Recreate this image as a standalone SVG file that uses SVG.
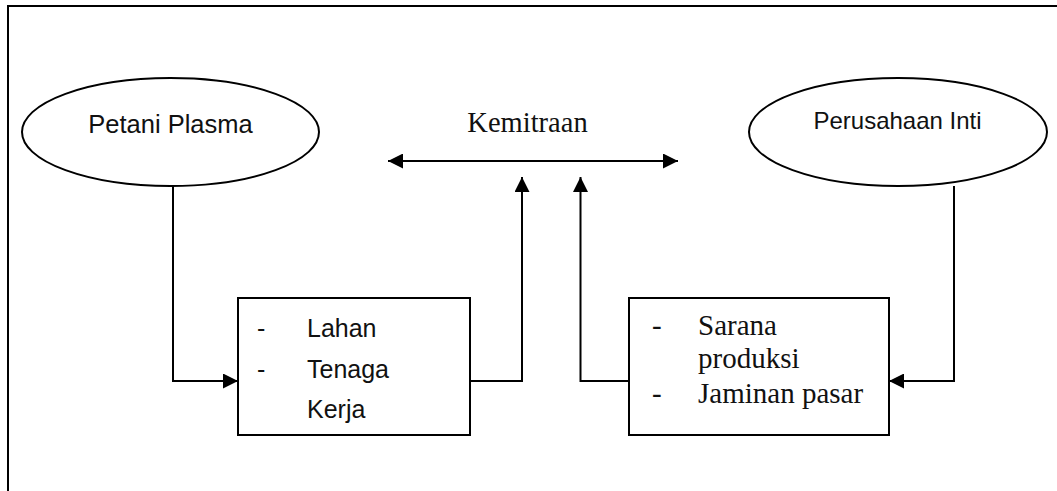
<svg xmlns="http://www.w3.org/2000/svg" width="1057" height="491" viewBox="0 0 1057 491">
<style>
.ln{fill:none;stroke:#000;stroke-width:2}
.shape{fill:#fff;stroke:#000;stroke-width:2}
.sans{font-family:"Liberation Sans",Arial,sans-serif;fill:#111}
.serif{font-family:"Liberation Serif","Times New Roman",serif;fill:#111}
</style>
<defs>
<marker id="ah" viewBox="0 0 15 15" refX="15" refY="7.5" markerWidth="15" markerHeight="15" markerUnits="userSpaceOnUse" orient="auto-start-reverse">
<path d="M0,0 L15,7.5 L0,15 Z" fill="#000"/>
</marker>
</defs>
<rect width="1057" height="491" fill="#fff"/>
<path class="ln" d="M8,491 V6 H1057"/>
<g id="petani-plasma">
<ellipse class="shape" cx="170.5" cy="132" rx="148.5" ry="54"/>
<text class="sans" x="170.5" y="133" font-size="25.5" text-anchor="middle">Petani Plasma</text>
</g>
<g id="perusahaan-inti">
<ellipse class="shape" cx="898" cy="132" rx="149" ry="54"/>
<text class="sans" x="897.5" y="129" font-size="24" text-anchor="middle">Perusahaan Inti</text>
</g>
<g id="kemitraan">
<text class="serif" x="527.5" y="132" font-size="28.5" text-anchor="middle">Kemitraan</text>
</g>
<g id="box-plasma">
<rect class="shape" x="238" y="298" width="232" height="137"/>
<text class="sans" font-size="25">
<tspan x="257" y="337">-</tspan><tspan x="307" y="337">Lahan</tspan>
<tspan x="257" y="378">-</tspan><tspan x="307" y="378">Tenaga</tspan>
<tspan x="307" y="418">Kerja</tspan>
</text>
</g>
<g id="box-inti">
<rect class="shape" x="629" y="298" width="260" height="137"/>
<text class="serif" font-size="29">
<tspan x="652" y="335">-</tspan><tspan x="698" y="335">Sarana</tspan>
<tspan x="698" y="368">produksi</tspan>
<tspan x="652" y="403">-</tspan><tspan x="698" y="403">Jaminan pasar</tspan>
</text>
</g>
<g id="connectors">
<path class="ln" d="M388,161 H678" marker-start="url(#ah)" marker-end="url(#ah)"/>
<path class="ln" d="M173,186 V381 H238" marker-end="url(#ah)"/>
<path class="ln" d="M470,381 H522 V177" marker-end="url(#ah)"/>
<path class="ln" d="M629,381 H580.5 V177" marker-end="url(#ah)"/>
<path class="ln" d="M954,186 V381 H889" marker-end="url(#ah)"/>
</g>
</svg>
